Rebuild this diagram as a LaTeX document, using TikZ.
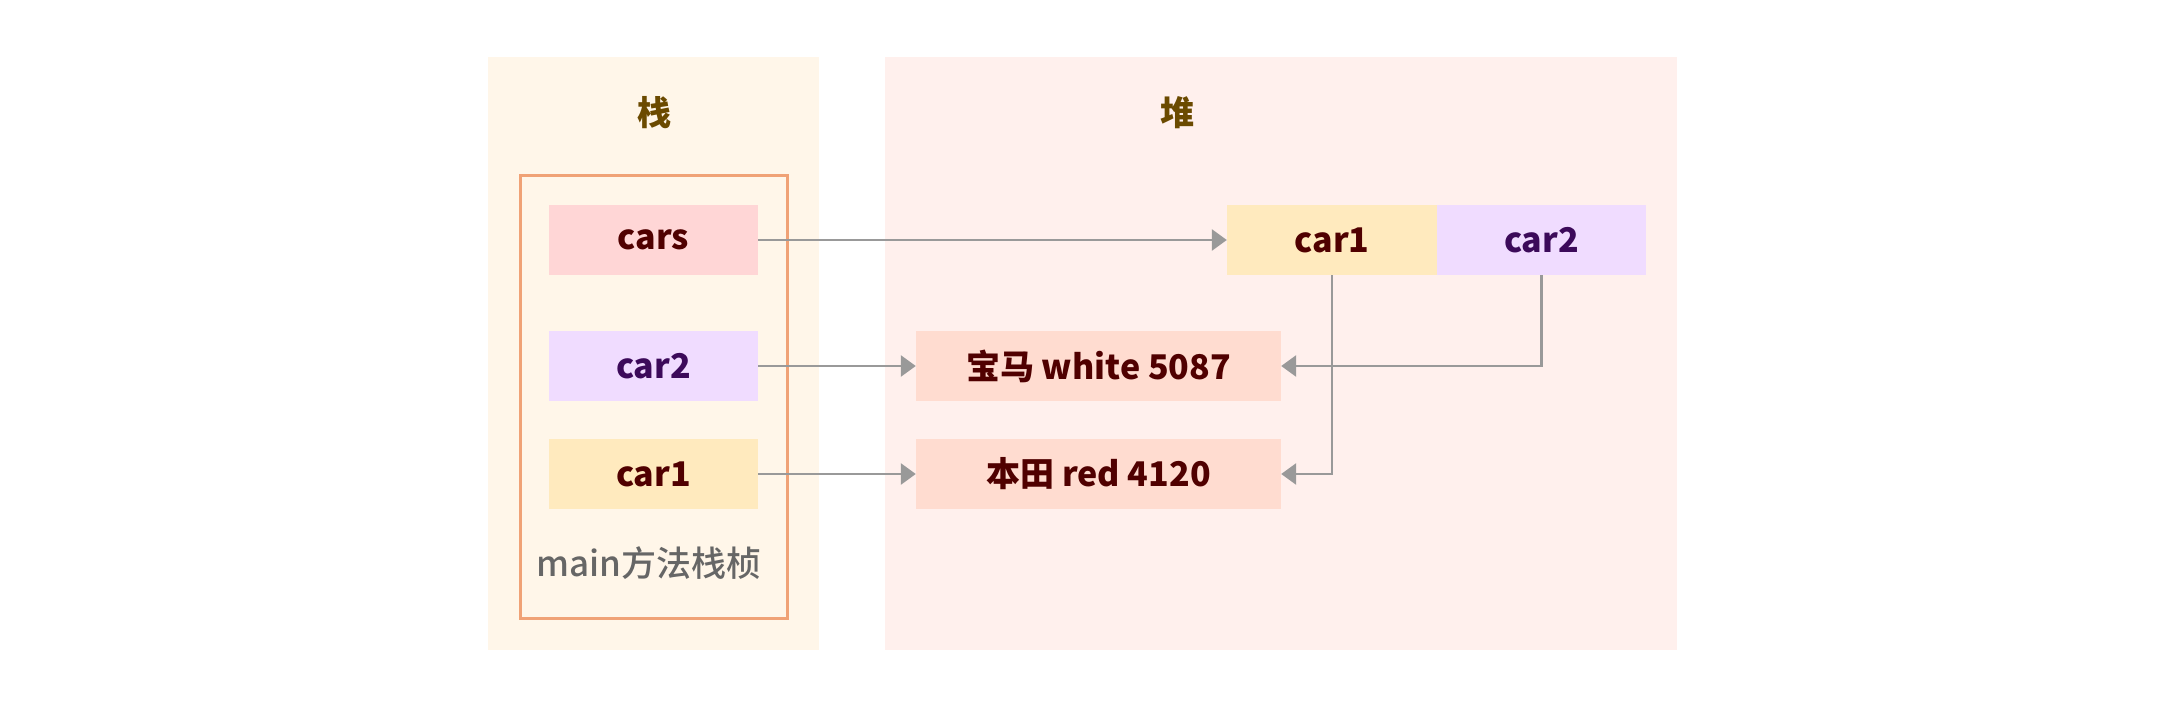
\documentclass[tikz,border=0pt]{standalone}
\usepackage{fontspec}
\setmainfont{Noto Sans CJK SC}
\newfontfamily\mediumfont{Noto Sans CJK SC}[UprightFont={* Medium}]
\usepackage{tikz}
\usetikzlibrary{arrows.meta}
\definecolor{StackBg}{RGB}{255,246,233}
\definecolor{HeapBg}{RGB}{255,240,237}
\definecolor{FrameLine}{RGB}{240,162,118}
\definecolor{CarsFill}{RGB}{255,214,214}
\definecolor{CarTwoFill}{RGB}{240,220,255}
\definecolor{CarOneFill}{RGB}{255,234,190}
\definecolor{ObjFill}{RGB}{255,220,208}
\definecolor{DarkRed}{RGB}{80,0,0}
\definecolor{DarkPurple}{RGB}{60,10,90}
\definecolor{TitleBrown}{RGB}{107,74,0}
\definecolor{LinkGray}{RGB}{153,153,153}

\begin{document}
\begin{tikzpicture}[x=1pt,y=-1pt,font=\fontsize{34}{40}\selectfont\bfseries,
   cell/.style n args={3}{fill=#1,text=#2,minimum width=#3pt,minimum height=70pt,inner sep=0pt,rectangle},
   region/.style n args={3}{fill=#1,minimum width=#2pt,minimum height=#3pt,inner sep=0pt,rectangle},
   link/.style={draw=LinkGray,line width=2.8pt,-{Triangle[length=15pt,width=21pt]}}]
\useasboundingbox (0,0) rectangle (2169,711);
% the two memory areas
\node[region={StackBg}{331}{593}](stack) at(653.5,353.5) {};
\node[region={HeapBg}{792}{593}](heap) at(1281,353.5) {};
\node[text=TitleBrown](stacktitle) at(654,113) {栈};
\node[text=TitleBrown](heaptitle) at(1177,113) {堆};
% main frame
\node[draw=FrameLine,line width=3pt,minimum width=267pt,minimum height=442pt,inner sep=0pt](frame) at(653.5,397) {};
\node[text=black!60,font=\fontsize{35}{40}\mediumfont](framelabel) at(649,563) {main方法栈桢};
\node[cell={CarsFill}{DarkRed}{209}](cars) at(653.5,240) {cars};
\node[cell={CarTwoFill}{DarkPurple}{209}](car2) at(653.5,366) {car2};
\node[cell={CarOneFill}{DarkRed}{209}](car1) at(653.5,474) {car1};
% heap objects
\node[cell={CarOneFill}{DarkRed}{210}](hcar1) at(1332,240) {car1};
\node[cell={CarTwoFill}{DarkPurple}{209}](hcar2) at(1541.5,240) {car2};
\node[cell={ObjFill}{DarkRed}{365}](bmw) at(1098.5,366) {宝马 white 5087};
\node[cell={ObjFill}{DarkRed}{365}](honda) at(1098.5,474) {本田 red 4120};
% references
\draw[link] (cars) -- (hcar1);
\draw[link] (car2) -- (bmw);
\draw[link] (car1) -- (honda);
\draw[link] (hcar1.south) |- (honda.east);
\draw[link] (hcar2.south) |- (bmw.east);
\end{tikzpicture}
\end{document}
